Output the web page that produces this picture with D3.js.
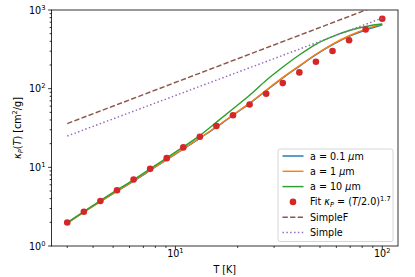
<!DOCTYPE html>
<html>
<head>
<meta charset="utf-8">
<script src="https://cdn.jsdelivr.net/npm/d3@7"></script>
<style>
  body { margin: 0; background: #fff; }
  svg { font-family: "DejaVu Sans", sans-serif; }
  .grid-tick { stroke: #000; stroke-width: 0.8; }
</style>
</head>
<body>
<svg id="chart" width="415" height="277"></svg>
<script>
// fit points, kappa_P = (T/2.0)^1.7
const tempFit = [3, 3.61, 4.34, 5.22, 6.28, 7.55, 9.08, 10.92, 13.13, 15.79,
  18.99, 22.84, 27.47, 33.04, 39.74, 47.79, 57.48, 69.13, 83.14, 100];
const kappaFit = [1.99, 2.73, 3.73, 5.11, 6.99, 9.57, 13.09, 17.92, 24.51, 33.55,
  45.9, 62.8, 86.0, 117.7, 161.1, 220.3, 301.5, 412.6, 564.9, 772.8];

// model curves for three grain sizes
const tempModel = [3, 4, 5, 6, 8, 10, 13.1, 15.8, 19, 22.9, 27.5, 33.2, 40, 48.2, 58.1, 70, 84.4, 100];
const kappaSmall = [1.95, 3.2, 4.63, 6.2, 10.1, 14.7, 23.4, 32.5, 46, 65, 94.5, 138, 195, 274, 368, 468, 566, 650];
const kappaMid = [1.96, 3.22, 4.66, 6.25, 10.2, 14.8, 23.6, 32.8, 46.5, 66, 96, 140, 198, 278, 375, 478, 580, 662];
const kappaLarge = [1.98, 3.28, 4.8, 6.45, 10.6, 15.6, 25.3, 37.5, 55.5, 83, 128, 190, 272, 372, 466, 552, 622, 662];

// simple estimates
const tempSimple = [3, 100];
const kappaSimpleF = [36, 1200];
const kappaSimple = [25, 790];

const xTicks = [10, 100];
const yTicks = [1, 10, 100, 1000];

const svg = d3.select('#chart');
const axLeft = 51.5, axRight = 398, axTop = 10, axBottom = 246;

const x = d3.scaleLog()
  .domain([Math.pow(10, 0.401), Math.pow(10, 2.0761)])
  .range([axLeft, axRight]);
const y = d3.scaleLog()
  .domain([1, 1000])
  .range([axBottom, axTop]);

svg.append('clipPath')
  .attr('id', 'plot-clip')
  .append('rect')
  .attr('x', axLeft)
  .attr('y', axTop)
  .attr('width', axRight - axLeft)
  .attr('height', axBottom - axTop);

const plot = svg.append('g').attr('clip-path', 'url(#plot-clip)');

const line = d3.line()
  .x((d) => x(d[0]))
  .y((d) => y(d[1]))
  .curve(d3.curveMonotoneX);

const zip = (a, b) => a.map((v, i) => [v, b[i]]);

const series = [
  { label: 'a = 0.1 ', values: kappaSmall, color: '#1f77b4' },
  { label: 'a = 1 ', values: kappaMid, color: '#ff7f0e' },
  { label: 'a = 10 ', values: kappaLarge, color: '#2ca02c' },
];

series.forEach((s) => {
  plot.append('path')
    .attr('d', line(zip(tempModel, s.values)))
    .attr('fill', 'none')
    .attr('stroke', s.color)
    .attr('stroke-width', 1.45);
});

plot.selectAll('circle.fit')
  .data(zip(tempFit, kappaFit))
  .enter()
    .append('circle')
    .classed('fit', true)
    .attr('cx', (d) => x(d[0]))
    .attr('cy', (d) => y(d[1]))
    .attr('r', 3.3)
    .attr('fill', '#d62728');

plot.append('path')
  .attr('d', line(zip(tempSimple, kappaSimpleF)))
  .attr('fill', 'none')
  .attr('stroke', '#8c564b')
  .attr('stroke-width', 1.45)
  .attr('stroke-dasharray', '5.3,2.3');

plot.append('path')
  .attr('d', line(zip(tempSimple, kappaSimple)))
  .attr('fill', 'none')
  .attr('stroke', '#9467bd')
  .attr('stroke-width', 1.45)
  .attr('stroke-dasharray', '1.45,2.4');

// axes frame
svg.append('rect')
  .attr('x', axLeft)
  .attr('y', axTop)
  .attr('width', axRight - axLeft)
  .attr('height', axBottom - axTop)
  .attr('fill', 'none')
  .attr('stroke', '#000')
  .attr('stroke-width', 0.8);

// ticks
const xMinor = [];
[1, 10].forEach((dec) => d3.range(2, 10).forEach((m) => xMinor.push(dec * m)));
const xMinorIn = xMinor.filter((v) => v >= x.domain()[0] && v <= x.domain()[1]);
svg.append('g').selectAll('line')
  .data(xMinorIn)
  .enter()
    .append('line')
    .classed('grid-tick', true)
    .attr('x1', (d) => x(d))
    .attr('x2', (d) => x(d))
    .attr('y1', axBottom)
    .attr('y2', axBottom + 1.9);
svg.append('g').selectAll('line')
  .data(xTicks)
  .enter()
    .append('line')
    .classed('grid-tick', true)
    .attr('x1', (d) => x(d))
    .attr('x2', (d) => x(d))
    .attr('y1', axBottom)
    .attr('y2', axBottom + 3.4);

const yMinor = [];
[1, 10, 100].forEach((dec) => d3.range(2, 10).forEach((m) => yMinor.push(dec * m)));
svg.append('g').selectAll('line')
  .data(yMinor)
  .enter()
    .append('line')
    .classed('grid-tick', true)
    .attr('x1', axLeft - 1.9)
    .attr('x2', axLeft)
    .attr('y1', (d) => y(d))
    .attr('y2', (d) => y(d));
svg.append('g').selectAll('line')
  .data(yTicks)
  .enter()
    .append('line')
    .classed('grid-tick', true)
    .attr('x1', axLeft - 3.4)
    .attr('x2', axLeft)
    .attr('y1', (d) => y(d))
    .attr('y2', (d) => y(d));

// tick labels as 10^n
const fs = 9.6;
function powerLabel(g, exp) {
  g.append('tspan').text('10');
  g.append('tspan')
    .attr('dy', -4)
    .attr('font-size', fs * 0.7)
    .text(exp);
}

xTicks.forEach((v) => {
  const t = svg.append('text')
    .attr('x', x(v))
    .attr('y', 257)
    .attr('text-anchor', 'middle')
    .attr('font-size', fs);
  powerLabel(t, Math.round(Math.log10(v)));
});

yTicks.forEach((v) => {
  const t = svg.append('text')
    .attr('x', axLeft - 6)
    .attr('y', y(v) + 3.6)
    .attr('text-anchor', 'end')
    .attr('font-size', fs);
  powerLabel(t, Math.round(Math.log10(v)));
});

// axis labels
svg.append('text')
  .attr('x', (axLeft + axRight) / 2)
  .attr('y', 273)
  .attr('text-anchor', 'middle')
  .attr('font-size', fs)
  .text('T [K]');

const ylab = svg.append('text')
  .attr('transform', `translate(21, ${(axTop + axBottom) / 2}) rotate(-90)`)
  .attr('text-anchor', 'middle')
  .attr('font-size', fs);
ylab.append('tspan').attr('font-style', 'italic').text('κ');
ylab.append('tspan').attr('font-style', 'italic').attr('font-size', fs * 0.7).attr('dy', 2).text('P');
ylab.append('tspan').attr('dy', -2).text('(');
ylab.append('tspan').attr('font-style', 'italic').text('T');
ylab.append('tspan').text(') [cm');
ylab.append('tspan').attr('font-size', fs * 0.7).attr('dy', -4).text('2');
ylab.append('tspan').attr('dy', 4).text('/g]');

// legend
const legend = svg.append('g');
legend.append('rect')
  .attr('x', 278)
  .attr('y', 149)
  .attr('width', 115)
  .attr('height', 92.5)
  .attr('rx', 2)
  .attr('fill', '#fff')
  .attr('fill-opacity', 0.8)
  .attr('stroke', '#ccc')
  .attr('stroke-width', 0.8);

const rowY = (i) => 156 + i * 15.3;
const hx1 = 282.5, hx2 = 303.5, tx = 310;

series.forEach((s, i) => {
  legend.append('line')
    .attr('x1', hx1).attr('x2', hx2)
    .attr('y1', rowY(i)).attr('y2', rowY(i))
    .attr('stroke', s.color)
    .attr('stroke-width', 1.45);
  const t = legend.append('text')
    .attr('x', tx)
    .attr('y', rowY(i) + 3.5)
    .attr('font-size', fs);
  t.append('tspan').text(s.label);
  t.append('tspan').attr('font-style', 'italic').text('μ');
  t.append('tspan').text('m');
});

legend.append('circle')
  .attr('cx', (hx1 + hx2) / 2)
  .attr('cy', rowY(3))
  .attr('r', 3.3)
  .attr('fill', '#d62728');
const fitText = legend.append('text')
  .attr('x', tx)
  .attr('y', rowY(3) + 3.5)
  .attr('font-size', fs);
fitText.append('tspan').text('Fit ');
fitText.append('tspan').attr('font-style', 'italic').text('κ');
fitText.append('tspan').attr('font-style', 'italic').attr('font-size', fs * 0.7).attr('dy', 2).text('P');
fitText.append('tspan').attr('dy', -2).text(' = (');
fitText.append('tspan').attr('font-style', 'italic').text('T');
fitText.append('tspan').text('/2.0)');
fitText.append('tspan').attr('font-size', fs * 0.7).attr('dy', -4).text('1.7');

legend.append('line')
  .attr('x1', hx1).attr('x2', hx2)
  .attr('y1', rowY(4)).attr('y2', rowY(4))
  .attr('stroke', '#8c564b')
  .attr('stroke-width', 1.45)
  .attr('stroke-dasharray', '5.3,2.3');
legend.append('text')
  .attr('x', tx)
  .attr('y', rowY(4) + 3.5)
  .attr('font-size', fs)
  .text('SimpleF');

legend.append('line')
  .attr('x1', hx1).attr('x2', hx2)
  .attr('y1', rowY(5)).attr('y2', rowY(5))
  .attr('stroke', '#9467bd')
  .attr('stroke-width', 1.45)
  .attr('stroke-dasharray', '1.45,2.4');
legend.append('text')
  .attr('x', tx)
  .attr('y', rowY(5) + 3.5)
  .attr('font-size', fs)
  .text('Simple');
</script>
</body>
</html>
